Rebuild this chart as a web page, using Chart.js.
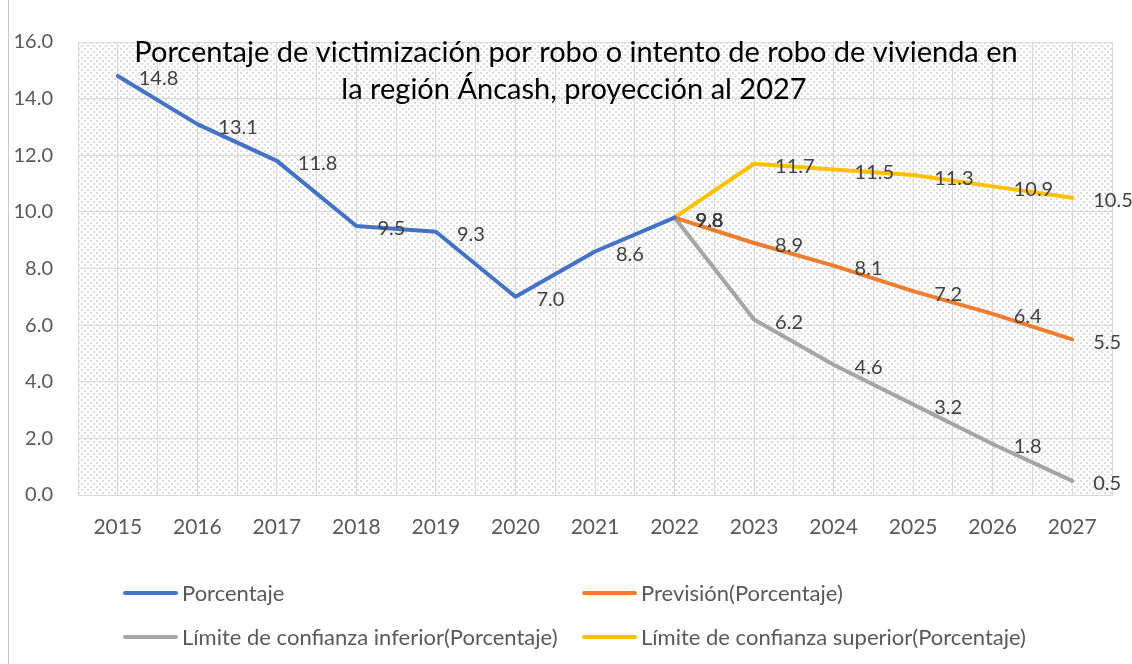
<!DOCTYPE html>
<html>
<head>
<meta charset="utf-8">
<script src="https://cdn.jsdelivr.net/npm/chart.js@4"></script>
<style>
  html, body { margin: 0; padding: 0; background: #fff; }
  canvas { display: block; }
</style>
</head>
<body>
<canvas id="chart" width="1132" height="664"></canvas>
<script>
// categories and series
const years = ['2015', '2016', '2017', '2018', '2019', '2020', '2021', '2022', '2023', '2024', '2025', '2026', '2027'];
const porcentaje = [14.8, 13.1, 11.8, 9.5, 9.3, 7.0, 8.6, 9.8, null, null, null, null, null];
const prevision = [null, null, null, null, null, null, null, 9.8, 8.9, 8.1, 7.2, 6.4, 5.5];
const limInferior = [null, null, null, null, null, null, null, 9.8, 6.2, 4.6, 3.2, 1.8, 0.5];
const limSuperior = [null, null, null, null, null, null, null, 9.8, 11.7, 11.5, 11.3, 10.9, 10.5];
const yTicks = [0, 2, 4, 6, 8, 10, 12, 14, 16];
const titleLines = ['Porcentaje de victimización por robo o intento de robo de vivienda en', 'la región Áncash, proyección al 2027'];

const FONT = 'Lato, "Open Sans", sans-serif';
const TEXT_GRAY = '#595959';

function toPoints(arr) {
    return arr.map((v, i) => ({ x: i, y: v }));
}

// hatched plot background like the excel pattern fill
function makePattern(ctx) {
    const tile = document.createElement('canvas');
    tile.width = 6;
    tile.height = 6;
    const t = tile.getContext('2d');
    t.fillStyle = '#ffffff';
    t.fillRect(0, 0, 6, 6);
    t.fillStyle = '#dcdcdc';
    t.fillRect(0, 0, 2, 2);
    t.fillRect(3, 3, 2, 2);
    return ctx.createPattern(tile, 'repeat');
}

const backgroundPlugin = {
    id: 'background',
    beforeDraw(chart) {
        const { ctx, chartArea: a } = chart;
        ctx.save();
        ctx.fillStyle = '#ffffff';
        ctx.fillRect(0, 0, chart.width, chart.height);
        ctx.fillStyle = makePattern(ctx);
        ctx.fillRect(a.left, a.top, a.right - a.left, a.bottom - a.top);
        // outer frame line on the left
        ctx.strokeStyle = '#c8c8c8';
        ctx.lineWidth = 1;
        ctx.beginPath();
        ctx.moveTo(8.5, 0);
        ctx.lineTo(8.5, chart.height);
        ctx.stroke();
        ctx.restore();
    }
};

const valueLabelPlugin = {
    id: 'valueLabels',
    afterDatasetsDraw(chart) {
        const ctx = chart.ctx;
        ctx.save();
        ctx.font = '20px ' + FONT;
        ctx.fillStyle = '#404040';
        ctx.textAlign = 'left';
        ctx.textBaseline = 'middle';
        chart.data.datasets.forEach((ds, di) => {
            const meta = chart.getDatasetMeta(di);
            meta.data.forEach((pt, i) => {
                const v = ds.data[i].y;
                if (v === null || v === undefined) return;
                ctx.fillText(v.toFixed(1), pt.x + 21, pt.y + 3);
            });
        });
        ctx.restore();
    }
};

const titleLegendPlugin = {
    id: 'titleLegend',
    afterDraw(chart) {
        const ctx = chart.ctx;
        ctx.save();
        // title sits inside the plot area
        ctx.font = '29px ' + FONT;
        ctx.fillStyle = '#000000';
        ctx.textAlign = 'center';
        ctx.textBaseline = 'alphabetic';
        ctx.fillText(titleLines[0], 576, 62);
        ctx.fillText(titleLines[1], 574, 99);

        // legend, two columns
        const cols = [123, 582];
        const rows = [593, 637];
        ctx.font = '22px ' + FONT;
        ctx.textAlign = 'left';
        ctx.textBaseline = 'middle';
        chart.data.datasets.forEach((ds, i) => {
            const x = cols[i % 2];
            const y = rows[Math.floor(i / 2)];
            ctx.strokeStyle = ds.borderColor;
            ctx.lineWidth = 4;
            ctx.lineCap = 'round';
            ctx.beginPath();
            ctx.moveTo(x + 2, y);
            ctx.lineTo(x + 53, y);
            ctx.stroke();
            ctx.fillStyle = TEXT_GRAY;
            ctx.fillText(ds.label, x + 59, y + 1);
        });
        ctx.restore();
    }
};

function lineDataset(label, values, color) {
    return {
        label: label,
        data: toPoints(values),
        borderColor: color,
        backgroundColor: color,
        borderWidth: 4,
        pointRadius: 0,
        pointHoverRadius: 0,
        borderJoinStyle: 'round',
        borderCapStyle: 'round',
        tension: 0,
        spanGaps: false
    };
}

new Chart(document.getElementById('chart'), {
    type: 'line',
    data: {
        datasets: [
            lineDataset('Porcentaje', porcentaje, '#4472C4'),
            lineDataset('Previsión(Porcentaje)', prevision, '#ED7D31'),
            lineDataset('Límite de confianza inferior(Porcentaje)', limInferior, '#A5A5A5'),
            lineDataset('Límite de confianza superior(Porcentaje)', limSuperior, '#FFC000')
        ]
    },
    options: {
        responsive: false,
        animation: false,
        devicePixelRatio: 1,
        layout: { padding: { top: 42, right: 19, left: 0, bottom: 0 } },
        plugins: {
            legend: { display: false },
            title: { display: false },
            tooltip: { enabled: false }
        },
        scales: {
            x: {
                type: 'linear',
                min: -0.5,
                max: years.length - 0.5,
                afterFit(scale) { scale.height = 169; },
                ticks: {
                    stepSize: 0.5,
                    autoSkip: false,
                    maxRotation: 0,
                    padding: 20,
                    color: TEXT_GRAY,
                    font: { family: FONT, size: 21 },
                    callback: (v) => Number.isInteger(v) ? years[v] : ''
                },
                grid: { color: '#d9d9d9', lineWidth: 1, drawTicks: false },
                border: { color: '#d9d9d9' }
            },
            y: {
                min: yTicks[0],
                max: yTicks[yTicks.length - 1],
                afterFit(scale) { scale.width = 78; },
                afterBuildTicks(scale) { scale.ticks = yTicks.map(v => ({ value: v })); },
                ticks: {
                    padding: 25,
                    color: TEXT_GRAY,
                    font: { family: FONT, size: 20 },
                    callback: (v) => v.toFixed(1)
                },
                grid: { color: '#d9d9d9', lineWidth: 1, drawTicks: false },
                border: { display: false }
            }
        }
    },
    plugins: [backgroundPlugin, valueLabelPlugin, titleLegendPlugin]
});
</script>
</body>
</html>
